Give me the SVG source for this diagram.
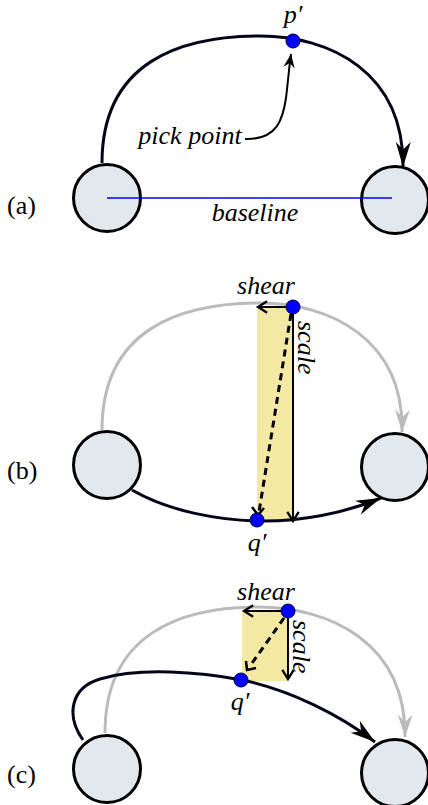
<svg xmlns="http://www.w3.org/2000/svg" width="428" height="805" viewBox="0 0 428 805">
<defs>
<style>
.node{fill:#e1e8ee;stroke:#000;stroke-width:3}
.curve{fill:none;stroke:#05051a;stroke-width:3}
.grey{fill:none;stroke:#bbbbbb;stroke-width:3}
.thin{fill:none;stroke:#000;stroke-width:2}
.dash{fill:none;stroke:#000;stroke-width:3;stroke-dasharray:7,5}
.dot{fill:#0000ff;stroke:#00003a;stroke-width:1}
.lbl{font-family:'Liberation Serif','Times New Roman','DejaVu Serif',serif;font-style:italic;font-size:26px;fill:#000}
.tag{font-family:'Liberation Serif','Times New Roman','DejaVu Serif',serif;font-size:26px;fill:#000}
.yel{fill:#f4e9a3}
</style>
<marker id="ah" markerUnits="userSpaceOnUse" markerWidth="30" markerHeight="20" viewBox="-22 -8 24 16" refX="0" refY="0" orient="auto">
<path d="M0,0 L-20,-6 L-14,0 L-20,6 Z" fill="#000"/>
</marker>
<marker id="ahg" markerUnits="userSpaceOnUse" markerWidth="30" markerHeight="20" viewBox="-22 -8 24 16" refX="0" refY="0" orient="auto">
<path d="M0,0 L-18,-6 L-12,0 L-18,6 Z" fill="#bbbbbb"/>
</marker>
<marker id="ahs" markerUnits="userSpaceOnUse" markerWidth="20" markerHeight="16" viewBox="-12 -7 14 14" refX="0" refY="0" orient="auto">
<path d="M-8,-5 L0,0 L-8,5" fill="none" stroke="#000" stroke-width="2"/>
</marker>
<marker id="ahf" markerUnits="userSpaceOnUse" markerWidth="20" markerHeight="16" viewBox="-14 -7 16 14" refX="0" refY="0" orient="auto">
<path d="M0,0 L-12,-5 L-8,0 L-12,5 Z" fill="#000"/>
</marker>
</defs>

<!-- Panel (a) -->
<text class="tag" x="7" y="214">(a)</text>
<g id="a-left"><circle class="node" cx="107" cy="198" r="33.5"/></g>
<g id="a-right"><circle class="node" cx="395" cy="200" r="33.5"/></g>
<g id="a-connectors">
<line x1="107" y1="198" x2="392" y2="198" stroke="#0000ff" stroke-width="1.5"/>
<path class="curve" d="M102,163 C102,62 180,36 260,36 C330,36 404,72 403,167" marker-end="url(#ah)"/>
<path class="thin" stroke-width="1.5" d="M245,139 C278,140 283,118 286,98 C288,82 289,68 291,54" marker-end="url(#ahf)"/>
</g>
<g id="a-p"><circle class="dot" cx="293" cy="41" r="7"/></g>
<text class="lbl" x="293" y="23" text-anchor="middle">p′</text>
<text class="lbl" x="190" y="144" text-anchor="middle">pick point</text>
<text class="lbl" x="255" y="221" text-anchor="middle">baseline</text>

<!-- Panel (b) -->
<text class="tag" x="7" y="479">(b)</text>
<g id="b-left"><circle class="node" cx="107" cy="465" r="33.5"/></g>
<g id="b-right"><circle class="node" cx="395" cy="467" r="33.5"/></g>
<g id="b-rect"><rect class="yel" x="257" y="307" width="37" height="215"/></g>
<g id="b-connectors">
<path class="grey" d="M102,430 C102,329 180,303 260,303 C330,303 404,339 402,432" marker-end="url(#ahg)"/>
<path class="curve" d="M132,490 C170,512 220,520 257,521 C300,522 345,513 381,498" marker-end="url(#ah)"/>
<line class="thin" x1="293" y1="307" x2="258" y2="307" marker-end="url(#ahs)"/>
<line class="thin" x1="293" y1="307" x2="293" y2="521" marker-end="url(#ahs)"/>
<line class="dash" x1="291" y1="314" x2="259" y2="512"/>
<path d="M252,507 L258,515 L264,508" fill="none" stroke="#000" stroke-width="2.5"/>
</g>
<g id="b-p"><circle class="dot" cx="293" cy="307" r="7"/></g>
<g id="b-q"><circle class="dot" cx="257" cy="520" r="7"/></g>
<text class="lbl" x="266" y="294" text-anchor="middle">shear</text>
<text class="lbl" transform="translate(298,321) rotate(90)">scale</text>
<text class="lbl" x="257" y="551" text-anchor="middle">q′</text>

<!-- Panel (c) -->
<text class="tag" x="7" y="783">(c)</text>
<g id="c-left"><circle class="node" cx="107" cy="769" r="33.5"/></g>
<g id="c-right"><circle class="node" cx="395" cy="773" r="33.5"/></g>
<g id="c-rect"><rect class="yel" x="242" y="611" width="46" height="70"/></g>
<g id="c-connectors">
<path class="grey" d="M105,733 C105,634 180,607 258,607 C330,607 406,643 405,737" marker-end="url(#ahg)"/>
<path class="curve" d="M83,740 C66,716 70,688 100,679 C140,667 200,672 242,680 C290,690 340,715 375,742" marker-end="url(#ah)"/>
<line class="thin" x1="288" y1="611" x2="244" y2="611" marker-end="url(#ahs)"/>
<line class="thin" x1="288" y1="611" x2="288" y2="679" marker-end="url(#ahs)"/>
<line class="dash" x1="284" y1="618" x2="250" y2="666"/>
<path d="M246,661 L247,670 L256,668" fill="none" stroke="#000" stroke-width="2.5"/>
</g>
<g id="c-p"><circle class="dot" cx="288" cy="611" r="7"/></g>
<g id="c-q"><circle class="dot" cx="241" cy="680" r="7"/></g>
<text class="lbl" x="266" y="600" text-anchor="middle">shear</text>
<text class="lbl" transform="translate(293,620) rotate(90)">scale</text>
<text class="lbl" x="240" y="710" text-anchor="middle">q′</text>
</svg>
